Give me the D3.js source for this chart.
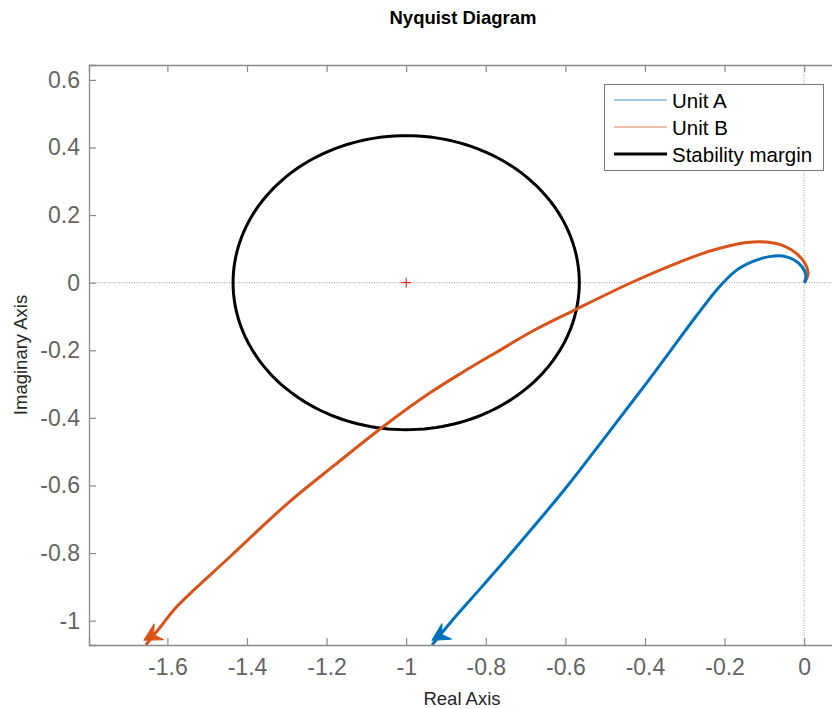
<!DOCTYPE html>
<html>
<head>
<meta charset="utf-8">
<script src="https://cdn.jsdelivr.net/npm/d3@7"></script>
<style>
  html, body { margin: 0; padding: 0; background: #fff; }
  svg { display: block; font-family: "Liberation Sans", Arial, Helvetica, sans-serif; }
</style>
</head>
<body>
<svg id="chart" width="832" height="709"></svg>
<script>
// ---- data ----
const titleText = "Nyquist Diagram";
const xLabel = "Real Axis";
const yLabel = "Imaginary Axis";
const xTicks = [-1.6, -1.4, -1.2, -1, -0.8, -0.6, -0.4, -0.2, 0];
const yTicks = [0.6, 0.4, 0.2, 0, -0.2, -0.4, -0.6, -0.8, -1];
const xDomain = [-1.797, 0.08];
const yDomain = [-1.072, 0.644];
const seriesNames = ["Unit A", "Unit B", "Stability margin"];

const unitA = [
  [-0.935, -1.072], [-0.885, -1.000], [-0.810, -0.900], [-0.736, -0.800],
  [-0.664, -0.700], [-0.594, -0.600], [-0.528, -0.500], [-0.463, -0.400],
  [-0.398, -0.300], [-0.335, -0.200], [-0.272, -0.100], [-0.215, -0.015],
  [-0.172, 0.035], [-0.130, 0.062], [-0.088, 0.077], [-0.054, 0.079],
  [-0.026, 0.068], [-0.006, 0.048], [0.004, 0.025], [0.003, 0.008], [0, 0]
];
const unitB = [
  [-1.654, -1.072], [-1.617, -1.018], [-1.580, -0.963], [-1.440, -0.808],
  [-1.297, -0.652], [-1.180, -0.540], [-1.059, -0.427], [-0.940, -0.326],
  [-0.858, -0.265], [-0.772, -0.205], [-0.682, -0.143], [-0.582, -0.084],
  [-0.431, 0.002], [-0.313, 0.061], [-0.230, 0.096], [-0.144, 0.119],
  [-0.094, 0.120], [-0.050, 0.108], [-0.018, 0.085], [0.003, 0.055],
  [0.010, 0.028], [0.004, 0.006], [0, 0]
];
// arrow [tip, tail] in data units
const arrowA = [[-0.935, -1.058], [-0.903, -1.035]];
const arrowB = [[-1.659, -1.058], [-1.625, -1.035]];
const circleCenter = [-1, 0];
const circleRadius = 0.435;

// ---- layout ----
const margin = { left: 89, top: 65, right: 836, bottom: 645 };
const colors = { A: "#0072BD", B: "#D95319", C: "#000000" };

const svg = d3.select("#chart");
const x = d3.scaleLinear().domain(xDomain).range([margin.left, margin.right]);
const y = d3.scaleLinear().domain(yDomain).range([margin.bottom, margin.top]);

svg.append("defs").append("clipPath").attr("id", "clip")
  .append("rect").attr("x", margin.left).attr("y", margin.top)
  .attr("width", margin.right - margin.left).attr("height", margin.bottom - margin.top);

// title
svg.append("text").attr("x", 463).attr("y", 24).attr("text-anchor", "middle")
  .attr("font-size", 18.5).attr("font-weight", "bold").attr("fill", "#000").text(titleText);

// zero grid lines
const plot = svg.append("g").attr("clip-path", "url(#clip)");
plot.append("line").attr("x1", x(0)).attr("x2", x(0)).attr("y1", margin.top).attr("y2", margin.bottom)
  .attr("stroke", "#a0a0a0").attr("stroke-width", 1).attr("stroke-dasharray", "1,1.5");
plot.append("line").attr("x1", margin.left).attr("x2", margin.right).attr("y1", y(0)).attr("y2", y(0))
  .attr("stroke", "#a0a0a0").attr("stroke-width", 1).attr("stroke-dasharray", "1,1.5");

// axes
const axisColor = "#8a8a8a";
const tickColor = "#646464";
const gx = svg.append("g").attr("transform", `translate(0,${margin.bottom})`)
  .call(d3.axisBottom(x).tickValues(xTicks).tickSize(-7).tickPadding(14).tickFormat(d3.format("~g")));
const gxTop = svg.append("g").attr("transform", `translate(0,${margin.top})`)
  .call(d3.axisTop(x).tickValues(xTicks).tickSize(-7).tickFormat(""));
const gy = svg.append("g").attr("transform", `translate(${margin.left},0)`)
  .call(d3.axisLeft(y).tickValues(yTicks).tickSize(-7).tickPadding(9).tickFormat(d3.format("~g")));
[gx, gxTop, gy].forEach(g => {
  g.select(".domain").attr("stroke", axisColor).attr("stroke-width", 1.3);
  g.selectAll(".tick line").attr("stroke", axisColor).attr("stroke-width", 1.2);
  g.selectAll(".tick text").attr("fill", tickColor).attr("font-size", 23)
    .attr("font-family", "Liberation Sans, Arial, sans-serif");
});
gx.selectAll(".tick text").text(d => d3.format("~g")(d).replace("−", "-"));
gy.selectAll(".tick text").text(d => d3.format("~g")(d).replace("−", "-"));

// axis labels
svg.append("text").attr("x", 462).attr("y", 705).attr("text-anchor", "middle")
  .attr("font-size", 18.5).attr("fill", "#262626").text(xLabel);
svg.append("text").attr("transform", `translate(27,${(margin.top + margin.bottom) / 2}) rotate(-90)`)
  .attr("text-anchor", "middle").attr("font-size", 18.5).attr("fill", "#262626").text(yLabel);

// stability margin circle
const angles = d3.range(0, 361, 2).map(a => a * Math.PI / 180);
const line = d3.line().x(d => x(d[0])).y(d => y(d[1]));
plot.append("path")
  .attr("d", line(angles.map(t => [circleCenter[0] + circleRadius * Math.cos(t), circleCenter[1] + circleRadius * Math.sin(t)])))
  .attr("fill", "none").attr("stroke", colors.C).attr("stroke-width", 3);

// critical point marker
const cx = x(circleCenter[0]), cy = y(circleCenter[1]);
plot.append("path").attr("d", `M${cx - 5},${cy}H${cx + 5}M${cx},${cy - 5}V${cy + 5}`)
  .attr("stroke", "#ff0000").attr("stroke-width", 1);

// curves
const curve = d3.line().x(d => x(d[0])).y(d => y(d[1])).curve(d3.curveCatmullRom.alpha(0.5));
plot.append("path").attr("d", curve(unitB)).attr("fill", "none").attr("stroke", colors.B)
  .attr("stroke-width", 3).attr("stroke-linejoin", "round");
plot.append("path").attr("d", curve(unitA)).attr("fill", "none").attr("stroke", colors.A)
  .attr("stroke-width", 3).attr("stroke-linejoin", "round");

// arrows
function arrow(a, color) {
  const tx = x(a[0][0]), ty = y(a[0][1]);
  const bx = x(a[1][0]), by = y(a[1][1]);
  const ang = Math.atan2(ty - by, tx - bx) * 180 / Math.PI;
  svg.append("path").attr("d", "M0,0 L-17,-9 L-11,0 L-17,9 Z")
    .attr("transform", `translate(${tx},${ty}) rotate(${ang})`)
    .attr("fill", color).attr("stroke", color).attr("stroke-width", 1.2).attr("stroke-linejoin", "round");
}
arrow(arrowB, colors.B);
arrow(arrowA, colors.A);

// legend
const lg = svg.append("g");
lg.append("rect").attr("x", 604.5).attr("y", 84.5).attr("width", 219).attr("height", 86)
  .attr("fill", "#fff").attr("stroke", "#7a7a7a").attr("stroke-width", 1);
const rows = [
  { name: seriesNames[0], color: colors.A, w: 1.2, y: 100 },
  { name: seriesNames[1], color: colors.B, w: 1.2, y: 127 },
  { name: seriesNames[2], color: colors.C, w: 3, y: 154 }
];
rows.forEach(r => {
  lg.append("line").attr("x1", 614).attr("x2", 667).attr("y1", r.y).attr("y2", r.y)
    .attr("stroke", r.color).attr("stroke-width", r.w).attr("opacity", r.w < 2 ? 0.75 : 1);
  lg.append("text").attr("x", 672).attr("y", r.y + 8).attr("font-size", 20.5).attr("fill", "#000").text(r.name);
});
</script>
</body>
</html>
